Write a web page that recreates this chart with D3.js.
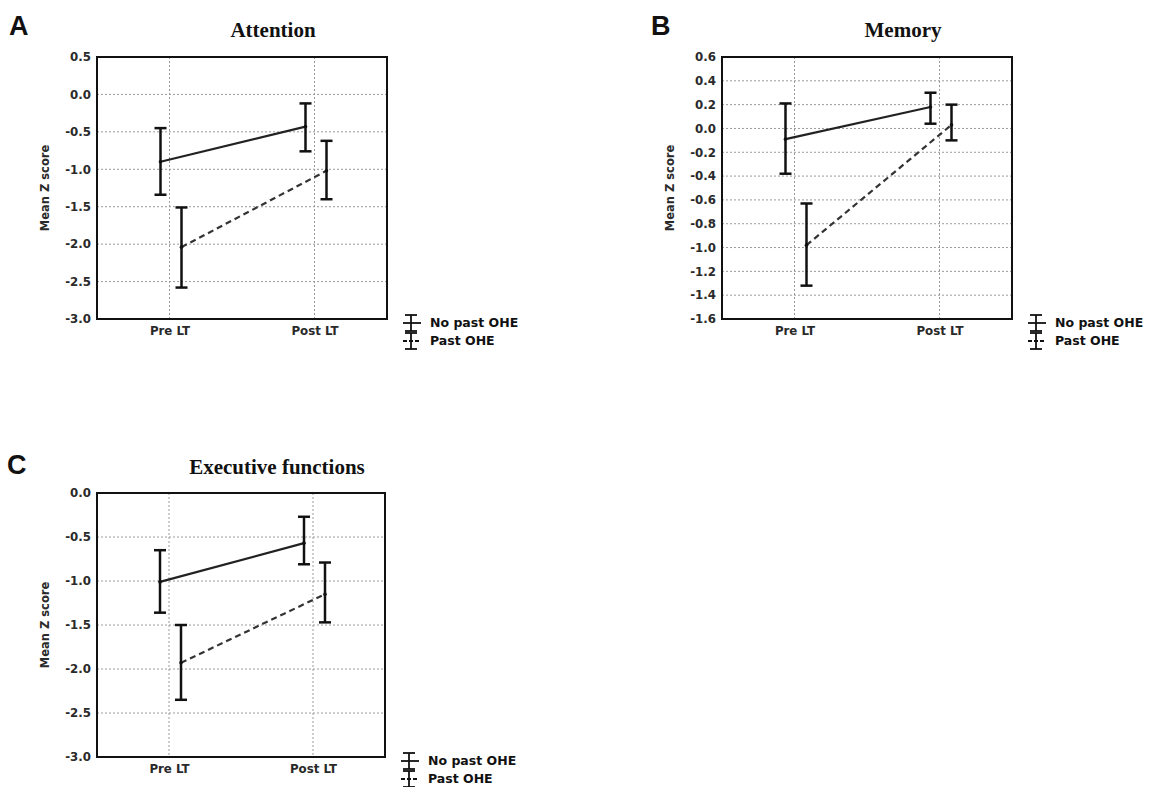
<!DOCTYPE html>
<html>
<head>
<meta charset="utf-8">
<script src="https://cdn.jsdelivr.net/npm/d3@7"></script>
<style>
  html, body { margin: 0; padding: 0; background: #fff; }
  svg { display: block; }
</style>
</head>
<body>
<svg id="chart" width="1149" height="787"></svg>
<script>
// Shared categories and groups
const categories = ["Pre LT", "Post LT"];
const groups = ["No past OHE", "Past OHE"];

// Attention
const attentionTicks = [0.5, 0.0, -0.5, -1.0, -1.5, -2.0, -2.5, -3.0];
const attentionNoPastMean = [-0.90, -0.43];
const attentionNoPastLow = [-1.34, -0.76];
const attentionNoPastHigh = [-0.45, -0.12];
const attentionPastMean = [-2.04, -1.02];
const attentionPastLow = [-2.58, -1.40];
const attentionPastHigh = [-1.51, -0.62];

// Memory
const memoryTicks = [0.6, 0.4, 0.2, 0.0, -0.2, -0.4, -0.6, -0.8, -1.0, -1.2, -1.4, -1.6];
const memoryNoPastMean = [-0.09, 0.18];
const memoryNoPastLow = [-0.38, 0.04];
const memoryNoPastHigh = [0.21, 0.30];
const memoryPastMean = [-0.98, 0.03];
const memoryPastLow = [-1.32, -0.10];
const memoryPastHigh = [-0.63, 0.20];

// Executive functions
const executiveTicks = [0.0, -0.5, -1.0, -1.5, -2.0, -2.5, -3.0];
const executiveNoPastMean = [-1.01, -0.57];
const executiveNoPastLow = [-1.36, -0.81];
const executiveNoPastHigh = [-0.65, -0.27];
const executivePastMean = [-1.93, -1.15];
const executivePastLow = [-2.35, -1.47];
const executivePastHigh = [-1.50, -0.79];

const panels = [
  { letter: "A", title: "Attention", ticks: attentionTicks,
    series: [
      { mean: attentionNoPastMean, low: attentionNoPastLow, high: attentionNoPastHigh },
      { mean: attentionPastMean, low: attentionPastLow, high: attentionPastHigh }
    ],
    frame: { x0: 97, x1: 387, y0: 57, y1: 319 }, letterPos: [9, 35], titleX: 273, titleY: 37 },
  { letter: "B", title: "Memory", ticks: memoryTicks,
    series: [
      { mean: memoryNoPastMean, low: memoryNoPastLow, high: memoryNoPastHigh },
      { mean: memoryPastMean, low: memoryPastLow, high: memoryPastHigh }
    ],
    frame: { x0: 722, x1: 1012, y0: 57, y1: 319 }, letterPos: [651, 35], titleX: 903, titleY: 37 },
  { letter: "C", title: "Executive functions", ticks: executiveTicks,
    series: [
      { mean: executiveNoPastMean, low: executiveNoPastLow, high: executiveNoPastHigh },
      { mean: executivePastMean, low: executivePastLow, high: executivePastHigh }
    ],
    frame: { x0: 97, x1: 385, y0: 493, y1: 757 }, letterPos: [7, 474], titleX: 277, titleY: 474 }
];

const svg = d3.select("#chart");
const sansFont = "'DejaVu Sans', Verdana, sans-serif";
const seriesOffset = [-9, 12];          // horizontal jitter of the two groups
const lineDash = [null, "6,4"];
const lineColor = ["#222", "#333"];

panels.forEach(p => {
  const f = p.frame;
  const g = svg.append("g");

  const y = d3.scaleLinear()
    .domain([d3.min(p.ticks), d3.max(p.ticks)])
    .range([f.y1, f.y0]);
  const x = d3.scalePoint()
    .domain(categories)
    .range([f.x0, f.x1])
    .padding(0.5);

  // panel letter and title
  g.append("text")
    .attr("x", p.letterPos[0]).attr("y", p.letterPos[1])
    .attr("font-family", "'Liberation Sans', Arial, sans-serif")
    .attr("font-weight", "bold").attr("font-size", 27)
    .attr("fill", "#111")
    .text(p.letter);
  g.append("text")
    .attr("x", p.titleX).attr("y", p.titleY)
    .attr("text-anchor", "middle")
    .attr("font-family", "'Liberation Serif', 'Times New Roman', serif")
    .attr("font-weight", "bold").attr("font-size", 21)
    .attr("fill", "#111")
    .text(p.title);

  // dotted grid
  g.append("g").selectAll("line.hgrid")
    .data(p.ticks)
    .join("line")
    .attr("x1", f.x0).attr("x2", f.x1)
    .attr("y1", d => y(d)).attr("y2", d => y(d))
    .attr("stroke", "#9a9a9a").attr("stroke-width", 1)
    .attr("stroke-dasharray", "2,2");
  g.append("g").selectAll("line.vgrid")
    .data(categories)
    .join("line")
    .attr("x1", d => x(d)).attr("x2", d => x(d))
    .attr("y1", f.y0).attr("y2", f.y1)
    .attr("stroke", "#9a9a9a").attr("stroke-width", 1)
    .attr("stroke-dasharray", "2,2");

  // axes (labels only)
  const yAxis = g.append("g")
    .attr("transform", `translate(${f.x0},0)`)
    .call(d3.axisLeft(y).tickValues(p.ticks).tickSize(0).tickPadding(6)
      .tickFormat(d => d.toFixed(1)));
  const xAxis = g.append("g")
    .attr("transform", `translate(0,${f.y1})`)
    .call(d3.axisBottom(x).tickSize(0).tickPadding(8));
  [yAxis, xAxis].forEach(a => {
    a.select(".domain").remove();
    a.selectAll("text")
      .attr("font-family", sansFont)
      .attr("font-weight", "bold")
      .attr("font-size", 11.8)
      .attr("fill", "#2a2a2a");
  });

  // y-axis title
  g.append("text")
    .attr("transform", `translate(${f.x0 - 48},${(f.y0 + f.y1) / 2}) rotate(-90)`)
    .attr("text-anchor", "middle")
    .attr("font-family", sansFont)
    .attr("font-weight", "bold").attr("font-size", 11.5)
    .attr("fill", "#2a2a2a")
    .text("Mean Z score");

  // series: connecting line, error bars, mean points
  p.series.forEach((s, i) => {
    const px = c => x(c) + seriesOffset[i];
    const pts = categories.map((c, k) => ({ c, mean: s.mean[k], low: s.low[k], high: s.high[k] }));

    g.append("path")
      .datum(pts)
      .attr("fill", "none")
      .attr("stroke", lineColor[i])
      .attr("stroke-width", 2.2)
      .attr("stroke-dasharray", lineDash[i])
      .attr("d", d3.line().x(d => px(d.c)).y(d => y(d.mean)));

    const bars = g.append("g").selectAll("g")
      .data(pts)
      .join("g");
    bars.append("line")
      .attr("x1", d => px(d.c)).attr("x2", d => px(d.c))
      .attr("y1", d => y(d.low)).attr("y2", d => y(d.high))
      .attr("stroke", "#111").attr("stroke-width", 2.5);
    ["low", "high"].forEach(key => {
      bars.append("line")
        .attr("x1", d => px(d.c) - 6).attr("x2", d => px(d.c) + 6)
        .attr("y1", d => y(d[key])).attr("y2", d => y(d[key]))
        .attr("stroke", "#111").attr("stroke-width", 2.5);
    });
    bars.append("circle")
      .attr("cx", d => px(d.c)).attr("cy", d => y(d.mean))
      .attr("r", 1.8).attr("fill", "#111");
  });

  // frame
  g.append("rect")
    .attr("x", f.x0).attr("y", f.y0)
    .attr("width", f.x1 - f.x0).attr("height", f.y1 - f.y0)
    .attr("fill", "none").attr("stroke", "#111").attr("stroke-width", 2);

  // legend
  const lg = g.append("g").attr("transform", `translate(${f.x1 + 16},${f.y1})`);
  groups.forEach((name, i) => {
    const base = 8 + i * 18;
    const yc = base - 4;
    const sym = lg.append("g");
    sym.append("line")
      .attr("x1", 8).attr("x2", 8).attr("y1", yc - 8).attr("y2", yc + 8)
      .attr("stroke", "#111").attr("stroke-width", 1.8);
    [yc - 8, yc + 8].forEach(cy => {
      sym.append("line")
        .attr("x1", 2).attr("x2", 14).attr("y1", cy).attr("y2", cy)
        .attr("stroke", "#111").attr("stroke-width", 1.8);
    });
    sym.append("line")
      .attr("x1", 0).attr("x2", 18).attr("y1", yc).attr("y2", yc)
      .attr("stroke", "#111").attr("stroke-width", 1.8)
      .attr("stroke-dasharray", i === 1 ? "4,2" : null);
    lg.append("text")
      .attr("x", 27).attr("y", base)
      .attr("font-family", sansFont)
      .attr("font-weight", "bold").attr("font-size", 12.5)
      .attr("fill", "#111")
      .text(name);
  });
});
</script>
</body>
</html>
